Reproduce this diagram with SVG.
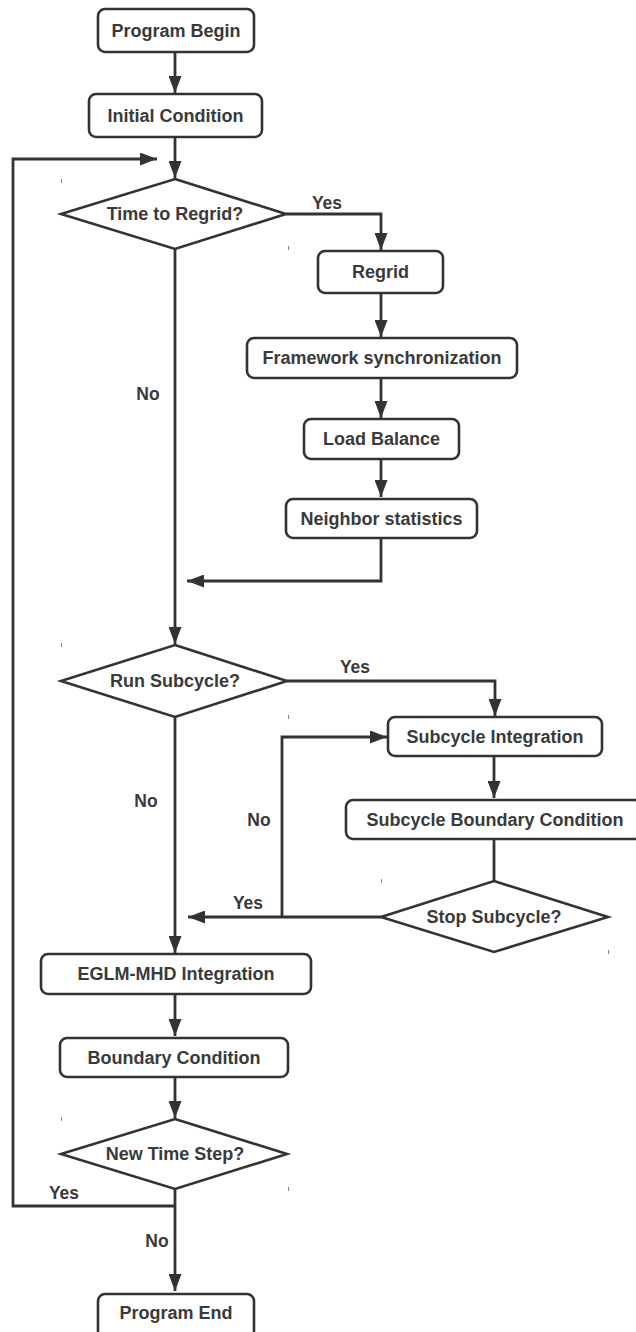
<svg xmlns="http://www.w3.org/2000/svg" width="636" height="1332" viewBox="0 0 636 1332">
<style>
.box{fill:#fff;stroke:#333;stroke-width:2.6}
.dia{fill:#fff;stroke:#333;stroke-width:2.6;stroke-linejoin:miter}
.t{font-family:"Liberation Sans",Arial,sans-serif;font-weight:bold;font-size:18px;fill:#3a3a3a;text-anchor:middle;dominant-baseline:central}
.lbl{font-family:"Liberation Sans",Arial,sans-serif;font-weight:bold;font-size:17.5px;fill:#3a3a3a;text-anchor:middle;dominant-baseline:central}
.c{fill:none;stroke:#333;stroke-width:2.8}
.ca{fill:none;stroke:#333;stroke-width:2.8;marker-end:url(#ah)}
.tick{fill:#888}
</style>
<defs>
<marker id="ah" markerUnits="userSpaceOnUse" markerWidth="17" markerHeight="13" refX="17" refY="6.5" orient="auto">
<path d="M0,0 L17,6.5 L0,13 z" fill="#333"/>
</marker>
</defs>
<rect width="636" height="1332" fill="#fff"/>
<g id="connectors">
<path class="ca" d="M175,52 V93"/>
<path class="ca" d="M175,137 V178"/>
<path class="ca" d="M286,214 H381 V250"/>
<path class="ca" d="M381,293 V337"/>
<path class="ca" d="M381,378 V418"/>
<path class="ca" d="M381,459 V497"/>
<path class="ca" d="M381,538 V581 H187"/>
<path class="ca" d="M175,249 V644"/>
<path class="ca" d="M287,681 H495 V716"/>
<path class="ca" d="M494,756 V798"/>
<path class="c" d="M494,839 V881"/>
<path class="ca" d="M381,917 H188"/>
<path class="ca" d="M282,917 V737 H387"/>
<path class="ca" d="M175,717 V953"/>
<path class="ca" d="M175,994 V1036"/>
<path class="ca" d="M175,1077 V1118"/>
<path class="ca" d="M175,1189 V1291"/>
<path class="ca" d="M175,1206 H13 V159 H157"/>
<text class="lbl" x="327" y="203">Yes</text>
<text class="lbl" x="148" y="394">No</text>
<text class="lbl" x="355" y="667">Yes</text>
<text class="lbl" x="146" y="801">No</text>
<text class="lbl" x="259" y="820">No</text>
<text class="lbl" x="248" y="903">Yes</text>
<text class="lbl" x="64" y="1193">Yes</text>
<text class="lbl" x="157" y="1241">No</text>
</g>
<g id="program-begin"><rect class="box" x="98" y="9" width="156" height="43" rx="7"/><text class="t" x="176" y="30.5">Program Begin</text></g>
<g id="initial-condition"><rect class="box" x="89" y="94" width="173" height="43" rx="7"/><text class="t" x="175.5" y="115.5">Initial Condition</text></g>
<g id="time-to-regrid"><polygon class="dia" points="175,179 286,214 175,249 61,214"/><text class="t" x="175" y="214">Time to Regrid?</text></g>
<g id="regrid"><rect class="box" x="318" y="251" width="125" height="42" rx="7"/><text class="t" x="380.5" y="272">Regrid</text></g>
<g id="framework-sync"><rect class="box" x="247" y="338" width="270" height="40" rx="7"/><text class="t" x="382" y="358">Framework synchronization</text></g>
<g id="load-balance"><rect class="box" x="304" y="419" width="155" height="40" rx="7"/><text class="t" x="381.5" y="439">Load Balance</text></g>
<g id="neighbor-statistics"><rect class="box" x="286" y="499" width="191" height="39" rx="7"/><text class="t" x="381.5" y="518.5">Neighbor statistics</text></g>
<g id="run-subcycle"><polygon class="dia" points="175,645 287,681 175,717 61,681"/><text class="t" x="175" y="681">Run Subcycle?</text></g>
<g id="subcycle-integration"><rect class="box" x="388" y="717" width="214" height="39" rx="7"/><text class="t" x="495" y="736.5">Subcycle Integration</text></g>
<g id="subcycle-boundary"><rect class="box" x="346" y="800" width="296" height="39" rx="7"/><text class="t" x="495" y="819.5">Subcycle Boundary Condition</text></g>
<g id="stop-subcycle"><polygon class="dia" points="494,881 608,917 494,952 381,917"/><text class="t" x="494" y="917">Stop Subcycle?</text></g>
<g id="eglm-mhd"><rect class="box" x="41" y="954" width="270" height="40" rx="7"/><text class="t" x="176" y="974">EGLM-MHD Integration</text></g>
<g id="boundary-condition"><rect class="box" x="60" y="1038" width="228" height="39" rx="7"/><text class="t" x="174" y="1057.5">Boundary Condition</text></g>
<g id="new-time-step"><polygon class="dia" points="175,1119 287,1154 175,1189 61,1154"/><text class="t" x="175" y="1154">New Time Step?</text></g>
<g id="program-end"><rect class="box" x="98" y="1294" width="156" height="50" rx="7"/><text class="t" x="176" y="1313">Program End</text></g>
<g id="ticks">
<rect class="tick" x="61" y="179" width="1" height="4"/>
<rect class="tick" x="288" y="246" width="1" height="4"/>
<rect class="tick" x="61" y="643" width="1" height="4"/>
<rect class="tick" x="288" y="715" width="1" height="4"/>
<rect class="tick" x="381" y="879" width="1" height="4"/>
<rect class="tick" x="608" y="950" width="1" height="4"/>
<rect class="tick" x="61" y="1117" width="1" height="4"/>
<rect class="tick" x="288" y="1187" width="1" height="4"/>
</g>
</svg>
